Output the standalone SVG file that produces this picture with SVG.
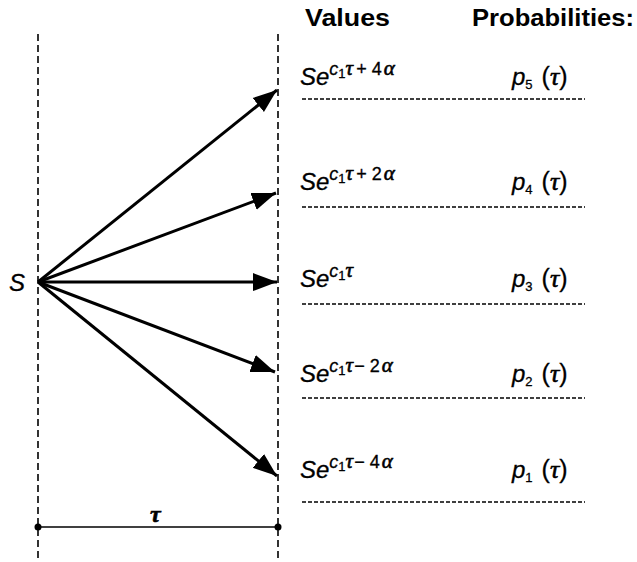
<svg xmlns="http://www.w3.org/2000/svg" width="637" height="562" viewBox="0 0 637 562">
<style>
.vdash{stroke:#000;stroke-width:1.6;stroke-dasharray:7,4;fill:none}
.hdash{stroke:#000;stroke-width:1.5;stroke-dasharray:4,2;fill:none}
.arr{stroke:#000;stroke-width:3;fill:none}
.hd{font-family:"Liberation Sans",Arial,sans-serif;font-weight:bold;font-size:23px}
.t{font-family:"Liberation Sans",Arial,sans-serif;font-size:24px;font-style:italic;stroke:#000;stroke-width:0.3}
.sup{font-size:18px}
.sub{font-size:13px;font-style:normal}
.gr{font-family:"Liberation Serif","Times New Roman",serif;font-style:italic;stroke-width:0.6}
.g1{font-size:21px}
.g2{font-size:26px}
.up{font-style:normal}
.pp{font-size:25px}
</style>
<defs>
<marker id="ah" markerUnits="userSpaceOnUse" markerWidth="26" markerHeight="20" refX="24" refY="10" orient="auto">
<path d="M0,1 L24,10 L0,19 Z" fill="#000"/>
</marker>
</defs>
<rect width="637" height="562" fill="#fff"/>
<g id="guides">
<line class="vdash" x1="38" y1="34" x2="38" y2="562"/>
<line class="vdash" x1="278" y1="34" x2="278" y2="562"/>
</g>
<g id="headers">
<text class="hd" x="305" y="26" textLength="85" lengthAdjust="spacingAndGlyphs">Values</text>
<text class="hd" x="472" y="26" textLength="162" lengthAdjust="spacingAndGlyphs">Probabilities:</text>
</g>
<g id="connectors">
<line class="arr" x1="38" y1="282" x2="277" y2="90" marker-end="url(#ah)"/>
<line class="arr" x1="38" y1="282" x2="276" y2="193" marker-end="url(#ah)"/>
<line class="arr" x1="38" y1="282" x2="277" y2="282" marker-end="url(#ah)"/>
<line class="arr" x1="38" y1="282" x2="275" y2="372" marker-end="url(#ah)"/>
<line class="arr" x1="38" y1="282" x2="277" y2="476" marker-end="url(#ah)"/>
</g>
<g id="node-S">
<text class="t" x="9" y="291">S</text>
</g>
<g id="node-v5">
<text class="t" x="300" y="85">Se<tspan class="sup" dy="-10">c</tspan><tspan class="sub" dy="3">1</tspan><tspan class="sup gr g1" dy="-3">τ</tspan><tspan class="sup up" dx="3">+ 4</tspan><tspan class="gr g1" dx="2">α</tspan></text>
<text class="t" x="512" y="85">p<tspan class="sub" font-size="16" dy="4">5</tspan><tspan class="up pp" dy="-4" dx="9">(</tspan><tspan class="gr g2">τ</tspan><tspan class="up pp">)</tspan></text>
<line class="hdash" x1="302" y1="99" x2="585" y2="99"/>
</g>
<g id="node-v4">
<text class="t" x="300" y="190">Se<tspan class="sup" dy="-10">c</tspan><tspan class="sub" dy="3">1</tspan><tspan class="sup gr g1" dy="-3">τ</tspan><tspan class="sup up" dx="3">+ 2</tspan><tspan class="gr g1" dx="2">α</tspan></text>
<text class="t" x="512" y="190">p<tspan class="sub" font-size="16" dy="4">4</tspan><tspan class="up pp" dy="-4" dx="9">(</tspan><tspan class="gr g2">τ</tspan><tspan class="up pp">)</tspan></text>
<line class="hdash" x1="302" y1="207" x2="585" y2="207"/>
</g>
<g id="node-v3">
<text class="t" x="300" y="287">Se<tspan class="sup" dy="-10">c</tspan><tspan class="sub" dy="3">1</tspan><tspan class="sup gr g1" dy="-3">τ</tspan></text>
<text class="t" x="512" y="287">p<tspan class="sub" font-size="16" dy="4">3</tspan><tspan class="up pp" dy="-4" dx="9">(</tspan><tspan class="gr g2">τ</tspan><tspan class="up pp">)</tspan></text>
<line class="hdash" x1="302" y1="304" x2="585" y2="304"/>
</g>
<g id="node-v2">
<text class="t" x="300" y="382">Se<tspan class="sup" dy="-10">c</tspan><tspan class="sub" dy="3">1</tspan><tspan class="sup gr g1" dy="-3">τ</tspan><tspan class="sup up" dx="1">− 2</tspan><tspan class="gr g1" dx="2">α</tspan></text>
<text class="t" x="512" y="382">p<tspan class="sub" font-size="16" dy="4">2</tspan><tspan class="up pp" dy="-4" dx="9">(</tspan><tspan class="gr g2">τ</tspan><tspan class="up pp">)</tspan></text>
<line class="hdash" x1="302" y1="398" x2="585" y2="398"/>
</g>
<g id="node-v1">
<text class="t" x="300" y="478">Se<tspan class="sup" dy="-10">c</tspan><tspan class="sub" dy="3">1</tspan><tspan class="sup gr g1" dy="-3">τ</tspan><tspan class="sup up" dx="1">− 4</tspan><tspan class="gr g1" dx="2">α</tspan></text>
<text class="t" x="512" y="478">p<tspan class="sub" font-size="16" dy="4">1</tspan><tspan class="up pp" dy="-4" dx="9">(</tspan><tspan class="gr g2">τ</tspan><tspan class="up pp">)</tspan></text>
<line class="hdash" x1="302" y1="502" x2="585" y2="502"/>
</g>
<g id="tau-span">
<line x1="38" y1="527" x2="278" y2="527" stroke="#000" stroke-width="1.5"/>
<circle cx="38" cy="527" r="3.5"/>
<circle cx="278" cy="527" r="3.5"/>
<text class="t gr" x="150" y="522" font-size="26" font-weight="bold">τ</text>
</g>
</svg>
